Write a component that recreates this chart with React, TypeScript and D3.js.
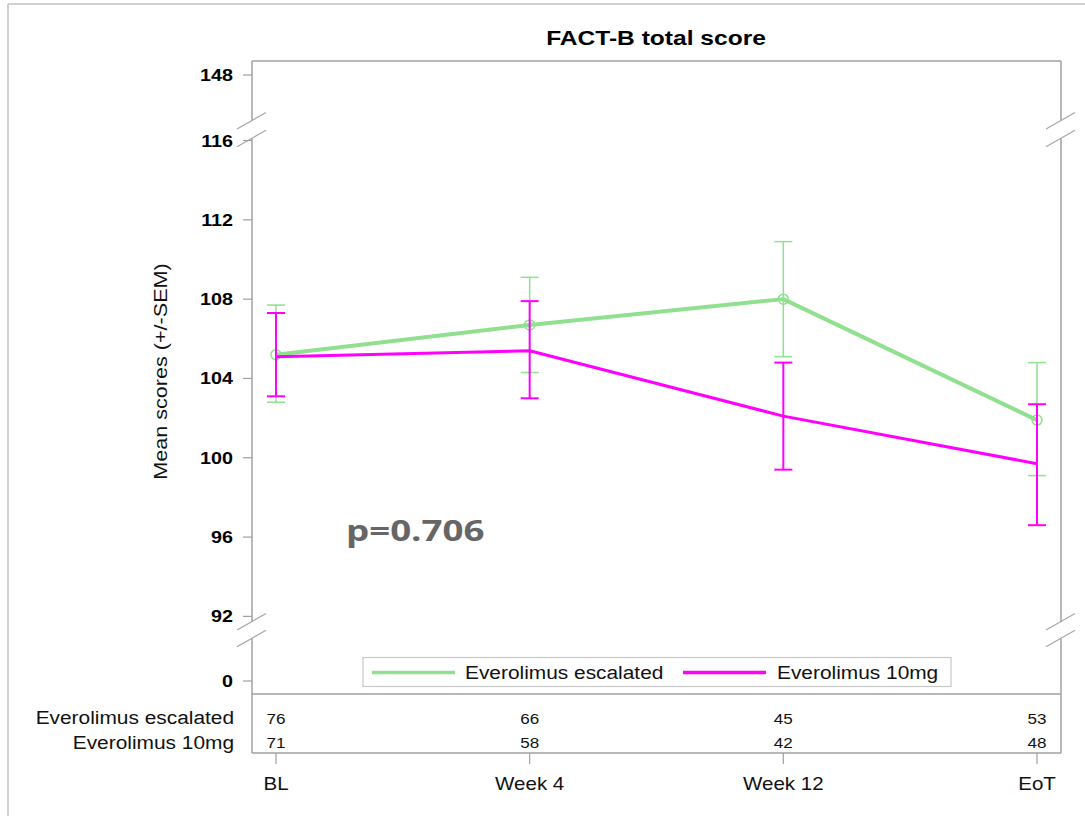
import * as d3 from 'd3';
import React from 'react';

const timepoints = ['BL', 'Week 4', 'Week 12', 'EoT'];
const escalatedMean = [105.2, 106.7, 108.0, 101.9];
const escalatedLow = [102.8, 104.3, 105.1, 99.1];
const escalatedHigh = [107.7, 109.1, 110.9, 104.8];
const tenMgMean = [105.1, 105.4, 102.1, 99.7];
const tenMgLow = [103.1, 103.0, 99.4, 96.6];
const tenMgHigh = [107.3, 107.9, 104.8, 102.7];
const escalatedN = [76, 66, 45, 53];
const tenMgN = [71, 58, 42, 48];
const yTicks = [0, 92, 96, 100, 104, 108, 112, 116, 148];
const seriesNames = ['Everolimus escalated', 'Everolimus 10mg'];

const GREEN = '#90e090';
const MAGENTA = '#ff00ff';
const FONT = '"Liberation Sans", Arial, sans-serif';

// frame
const left = 252;
const right = 1061;
const top = 61;
const plotBottom = 694;
const tableBottom = 753;
// axis breaks (gap on the axis line)
const breaks = [[120.5, 138.2], [621.5, 638.2]];

const x = d3.scalePoint().domain(timepoints).range([276, 1037]);
// broken axis: piecewise linear
const y = d3.scaleLinear().domain([0, 92, 116, 148]).range([681, 616.4, 140.5, 75]);

function T({ x, y, sx = 1.15, anchor = 'start', size = 18, weight = 'normal', fill = '#111', rotate = 0, family = FONT, children }) {
    const tr = `translate(${x},${y})${rotate ? ` rotate(${rotate})` : ''} scale(${sx},1)`;
    return (
        <text transform={tr} textAnchor={anchor} fontSize={size} fontWeight={weight} fill={fill} fontFamily={family}>
            {children}
        </text>
    );
}

function Series({ mean, low, high, color, lw, ew, markers }) {
    const pts = timepoints.map((t, i) => [x(t), y(mean[i])]);
    const line = d3.line();
    return (
        <g>
            <path d={line(pts)} fill="none" stroke={color} strokeWidth={lw} strokeLinejoin="round" />
            {timepoints.map((t, i) => (
                <g key={t} stroke={color} strokeWidth={ew}>
                    <line x1={x(t)} x2={x(t)} y1={y(low[i])} y2={y(high[i])} />
                    <line x1={x(t) - 9} x2={x(t) + 9} y1={y(low[i])} y2={y(low[i])} />
                    <line x1={x(t) - 9} x2={x(t) + 9} y1={y(high[i])} y2={y(high[i])} />
                </g>
            ))}
            {markers && pts.map((p, i) => (
                <circle key={i} cx={p[0]} cy={p[1]} r={5} fill="none" stroke={color} strokeWidth={1.5} />
            ))}
        </g>
    );
}

function axisSegments(ax) {
    const segs = [[top, breaks[0][0]], [breaks[0][1], breaks[1][0]], [breaks[1][1], tableBottom]];
    return segs.map((s, i) => <line key={i} x1={ax} x2={ax} y1={s[0]} y2={s[1]} stroke="#a0a0a0" strokeWidth={1.5} />);
}

function breakMarks(ax) {
    const out = [];
    breaks.forEach((b, i) => {
        b.forEach((by, j) => {
            out.push(<line key={`${i}-${j}`} x1={ax - 15} y1={by + 8.5} x2={ax + 14} y2={by - 8} stroke="#a8a8a8" strokeWidth={1.3} />);
        });
    });
    return out;
}

export default function App() {
    return (
        <svg width={1085} height={816} style={{ position: 'absolute', left: 0, top: 0, background: '#fff' }}>
            {/* page frame */}
            <line x1={8} x2={1085} y1={4} y2={4} stroke="#d0d0d0" strokeWidth={2} />
            <line x1={8} x2={8} y1={4} y2={816} stroke="#d0d0d0" strokeWidth={2} />

            <T x={656} y={45} anchor="middle" size={21} weight="bold" sx={1.17} fill="#000">FACT-B total score</T>

            {/* frame */}
            <line x1={left} x2={right} y1={top} y2={top} stroke="#a0a0a0" strokeWidth={1.5} />
            <line x1={left} x2={right} y1={plotBottom} y2={plotBottom} stroke="#a0a0a0" strokeWidth={1.5} />
            <line x1={left} x2={right} y1={tableBottom} y2={tableBottom} stroke="#a0a0a0" strokeWidth={1.5} />
            {axisSegments(left)}
            {axisSegments(right)}
            {breakMarks(left)}
            {breakMarks(right)}

            {/* y axis */}
            {yTicks.map(v => (
                <g key={v}>
                    <line x1={243} x2={left} y1={y(v)} y2={y(v)} stroke="#a0a0a0" strokeWidth={1.2} />
                    <T x={233} y={y(v) + 6} anchor="end" size={17} weight="bold" sx={1.16} fill="#000">{v}</T>
                </g>
            ))}
            <T x={167} y={371.5} rotate={-90} anchor="middle" size={18} sx={1.2} fill="#111">Mean scores (+/-SEM)</T>

            <Series mean={escalatedMean} low={escalatedLow} high={escalatedHigh} color={GREEN} lw={4} ew={1.5} markers />
            <Series mean={tenMgMean} low={tenMgLow} high={tenMgHigh} color={MAGENTA} lw={3} ew={2} markers={false} />

            <T x={346} y={541} size={28} weight="bold" sx={1.31} fill="#666" family='"Open Sans", sans-serif'>p=0.706</T>

            {/* legend */}
            <rect x={363} y={657.5} width={588} height={29} fill="#fff" stroke="#c8c8c8" strokeWidth={1.2} />
            <line x1={372} x2={455} y1={672.5} y2={672.5} stroke={GREEN} strokeWidth={3.5} />
            <T x={465} y={678.5} size={18} sx={1.16}>{seriesNames[0]}</T>
            <line x1={683} x2={766} y1={672.5} y2={672.5} stroke={MAGENTA} strokeWidth={3.5} />
            <T x={777} y={678.5} size={18} sx={1.16}>{seriesNames[1]}</T>

            {/* at-risk table */}
            <T x={234} y={724} anchor="end" size={18} sx={1.16}>{seriesNames[0]}</T>
            <T x={234} y={749} anchor="end" size={18} sx={1.16}>{seriesNames[1]}</T>
            {timepoints.map((t, i) => (
                <g key={t}>
                    <T x={x(t)} y={723.5} anchor="middle" size={15.5} sx={1.1}>{escalatedN[i]}</T>
                    <T x={x(t)} y={748} anchor="middle" size={15.5} sx={1.1}>{tenMgN[i]}</T>
                    <line x1={x(t)} x2={x(t)} y1={tableBottom} y2={764} stroke="#a0a0a0" strokeWidth={1.2} />
                    <T x={x(t)} y={790} anchor="middle" size={18} sx={1.14}>{t}</T>
                </g>
            ))}
        </svg>
    );
}
